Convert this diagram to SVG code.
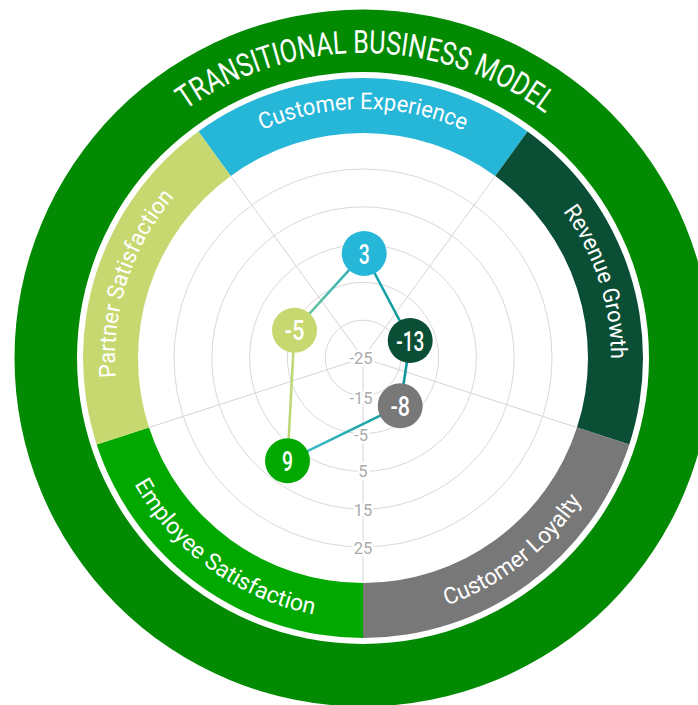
<svg xmlns="http://www.w3.org/2000/svg" width="698" height="705" viewBox="0 0 698 705">
<style>
.grid{fill:none;stroke:#d9d9d9;stroke-width:1}
.spoke{stroke:#d4d4d4;stroke-width:1}
.ax{font-family:Roboto,"Liberation Sans",sans-serif;font-size:16.5px;fill:#ababab;text-anchor:middle;stroke:#fff;stroke-width:5px;paint-order:stroke;stroke-linejoin:round}
.cat{font-family:Roboto,"Liberation Sans",sans-serif;font-size:23px;fill:#fff;text-anchor:middle}
.title{font-family:Roboto,"Liberation Sans",sans-serif;font-size:32px;fill:#fff;text-anchor:middle}
.num{font-family:Roboto,"Liberation Sans",sans-serif;font-size:28px;font-weight:500;fill:#fff;text-anchor:middle}
.link{fill:none;stroke-width:2.6;stroke-linecap:round}
</style>
<defs>
<path id="pTitle" d="M98.86,205.5 A305,305 0 0 1 627.14,205.5"/>
<path id="pCE" d="M147.36,233.5 A249,249 0 0 1 578.64,233.5"/>
<path id="pRG" d="M414.56,115.43 A248,248 0 0 1 547.29,523.94"/>
<path id="pPS" d="M178.71,523.94 A248,248 0 0 1 311.44,115.43"/>
<path id="pCL" d="M256.44,597.34 A263,263 0 0 0 623.56,330.62"/>
<path id="pES" d="M102.44,330.62 A263,263 0 0 0 469.56,597.34"/>
<linearGradient id="g1" gradientUnits="userSpaceOnUse" x1="364" y1="253" x2="294" y2="330"><stop offset="0" stop-color="#1aa9c0"/><stop offset="1" stop-color="#84cc98"/></linearGradient>
<linearGradient id="g2" gradientUnits="userSpaceOnUse" x1="400" y1="406" x2="287" y2="461"><stop offset="0" stop-color="#0f9a98"/><stop offset="1" stop-color="#45c2d2"/></linearGradient>
<linearGradient id="g3" gradientUnits="userSpaceOnUse" x1="364" y1="253" x2="410" y2="340"><stop offset="0" stop-color="#1aa8bc"/><stop offset="1" stop-color="#10958f"/></linearGradient>
</defs>
<rect width="698" height="705" fill="#fff"/>
<g id="outer-ring">
<circle cx="363" cy="358" r="348.5" fill="#028a02"/>
<circle cx="363" cy="358" r="286" fill="#fff"/>
<text class="title"><textPath href="#pTitle" startOffset="50.5%" textLength="385" lengthAdjust="spacingAndGlyphs">TRANSITIONAL BUSINESS MODEL</textPath></text>
</g>
<g id="seg-customer-experience">
<path d="M198.42,131.48 A280,280 0 0 1 527.58,131.48 L495.25,175.97 A225,225 0 0 0 230.75,175.97 Z" fill="#26b6d8"/>
<text class="cat"><textPath href="#pCE" startOffset="50%" textLength="208" lengthAdjust="spacingAndGlyphs">Customer Experience</textPath></text>
</g>
<g id="seg-revenue-growth">
<path d="M527.58,131.48 A280,280 0 0 1 629.30,444.52 L576.99,427.53 A225,225 0 0 0 495.25,175.97 Z" fill="#0a4f35"/>
<text class="cat"><textPath href="#pRG" startOffset="50%" textLength="158" lengthAdjust="spacingAndGlyphs">Revenue Growth</textPath></text>
</g>
<g id="seg-customer-loyalty">
<path d="M629.30,444.52 A280,280 0 0 1 363,638 L363,583 A225,225 0 0 0 576.99,427.53 Z" fill="#787878"/>
<text class="cat"><textPath href="#pCL" startOffset="51.5%" textLength="174" lengthAdjust="spacingAndGlyphs">Customer Loyalty</textPath></text>
</g>
<g id="seg-employee-satisfaction">
<path d="M363,638 A280,280 0 0 1 96.70,444.52 L149.01,427.53 A225,225 0 0 0 363,583 Z" fill="#00a800"/>
<text class="cat"><textPath href="#pES" startOffset="50%" textLength="229" lengthAdjust="spacingAndGlyphs">Employee Satisfaction</textPath></text>
</g>
<g id="seg-partner-satisfaction">
<path d="M96.70,444.52 A280,280 0 0 1 198.42,131.48 L230.75,175.97 A225,225 0 0 0 149.01,427.53 Z" fill="#c8d870"/>
<text class="cat"><textPath href="#pPS" startOffset="50%" textLength="195" lengthAdjust="spacingAndGlyphs">Partner Satisfaction</textPath></text>
</g>
<g id="grid">
<circle class="grid" cx="363" cy="358" r="37.8"/>
<circle class="grid" cx="363" cy="358" r="75.6"/>
<circle class="grid" cx="363" cy="358" r="113.4"/>
<circle class="grid" cx="363" cy="358" r="151.2"/>
<circle class="grid" cx="363" cy="358" r="189"/>
<line class="spoke" x1="363" y1="358" x2="495.25" y2="175.97"/>
<line class="spoke" x1="363" y1="358" x2="576.99" y2="427.53"/>
<line class="spoke" x1="363" y1="358" x2="363" y2="583"/>
<line class="spoke" x1="363" y1="358" x2="149.01" y2="427.53"/>
<line class="spoke" x1="363" y1="358" x2="230.75" y2="175.97"/>
</g>
<g id="axis-labels">
<text class="ax" x="361" y="364">-25</text>
<text class="ax" x="361" y="403.5">-15</text>
<text class="ax" x="361" y="440.5">-5</text>
<text class="ax" x="363" y="477">5</text>
<text class="ax" x="363" y="515.5">15</text>
<text class="ax" x="363" y="553.5">25</text>
</g>
<g id="connectors">
<line class="link" x1="364.2" y1="253.5" x2="294.5" y2="330.2" stroke="url(#g1)"/>
<line class="link" x1="364.2" y1="253.5" x2="410.2" y2="340.5" stroke="url(#g3)"/>
<line class="link" x1="410.2" y1="340.5" x2="400.2" y2="405.8" stroke="#11979a"/>
<line class="link" x1="400.2" y1="405.8" x2="287.5" y2="460.8" stroke="url(#g2)"/>
<line class="link" x1="294.5" y1="330.2" x2="287.5" y2="460.8" stroke="#c0d778"/>
</g>
<g id="node-customer-experience">
<circle cx="364.2" cy="253.5" r="22.5" fill="#26b6d8"/>
<text class="num" x="364.2" y="263.5" textLength="11" lengthAdjust="spacingAndGlyphs">3</text>
</g>
<g id="node-revenue-growth">
<circle cx="410.2" cy="340.5" r="22.5" fill="#0a4f35"/>
<text class="num" x="410.2" y="350.5" textLength="28" lengthAdjust="spacingAndGlyphs">-13</text>
</g>
<g id="node-customer-loyalty">
<circle cx="400.2" cy="405.8" r="22.5" fill="#787878"/>
<text class="num" x="400.2" y="415.8" textLength="19.5" lengthAdjust="spacingAndGlyphs">-8</text>
</g>
<g id="node-employee-satisfaction">
<circle cx="287.5" cy="460.8" r="22.5" fill="#00a800"/>
<text class="num" x="287.5" y="470.8" textLength="11" lengthAdjust="spacingAndGlyphs">9</text>
</g>
<g id="node-partner-satisfaction">
<circle cx="294.5" cy="330.2" r="22.5" fill="#c8d870"/>
<text class="num" x="294.5" y="340.2" textLength="20" lengthAdjust="spacingAndGlyphs">-5</text>
</g>
</svg>
